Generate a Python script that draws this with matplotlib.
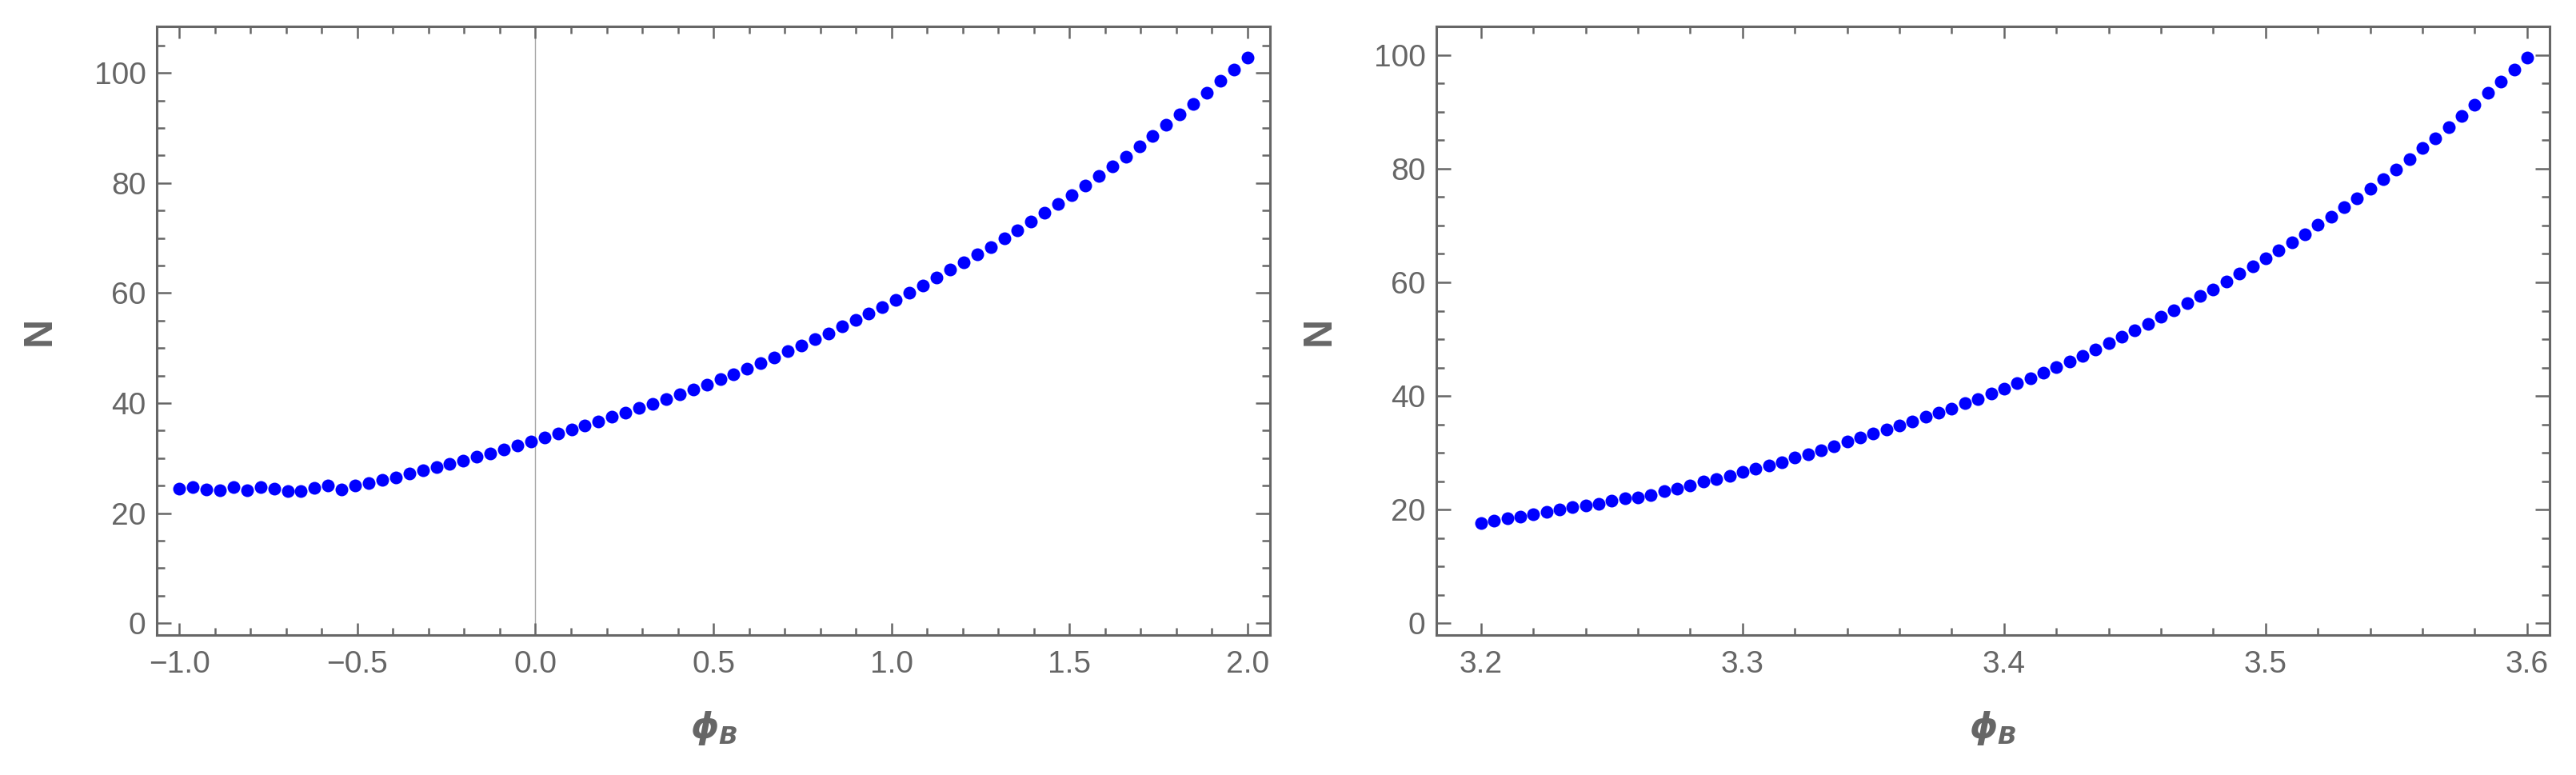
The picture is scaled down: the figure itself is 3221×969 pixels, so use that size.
import numpy as np
import matplotlib
matplotlib.use("Agg")
import matplotlib.pyplot as plt
from matplotlib.ticker import MultipleLocator

plt.rcParams['font.family'] = ['Liberation Sans', 'DejaVu Sans']
plt.rcParams['mathtext.fontset'] = 'custom'
plt.rcParams['mathtext.it'] = 'DejaVu Sans:italic:bold'
plt.rcParams['mathtext.rm'] = 'DejaVu Sans:bold'

# left panel data: 80 samples on [-1, 2]
phi_left = np.linspace(-1.0, 2.0, 80)
n_left = [24.4, 24.8, 24.3, 24.2, 24.7, 24.2, 24.7, 24.5, 24.0, 24.0,
          24.6, 25.1, 24.3, 25.0, 25.4, 26.0, 26.5, 27.2, 27.8, 28.4,
          29.0, 29.5, 30.3, 30.9, 31.6, 32.3, 33.0, 33.7, 34.5, 35.2,
          36.0, 36.7, 37.6, 38.3, 39.1, 39.9, 40.7, 41.6, 42.5, 43.4,
          44.3, 45.3, 46.3, 47.3, 48.3, 49.4, 50.5, 51.6, 52.7, 53.9,
          55.1, 56.3, 57.5, 58.8, 60.1, 61.4, 62.8, 64.2, 65.6, 67.0,
          68.4, 69.9, 71.4, 73.0, 74.6, 76.2, 77.8, 79.5, 81.2, 83.0,
          84.7, 86.6, 88.5, 90.5, 92.4, 94.4, 96.4, 98.5, 100.6, 102.8]

# right panel data: 81 samples on [3.2, 3.6]
phi_right = np.linspace(3.2, 3.6, 81)
n_right = [17.7, 18.1, 18.5, 18.8, 19.2, 19.6, 20.0, 20.4, 20.7, 21.0,
           21.6, 22.0, 22.1, 22.6, 23.2, 23.7, 24.3, 24.9, 25.4, 25.9,
           26.6, 27.2, 27.8, 28.4, 29.2, 29.8, 30.5, 31.2, 32.0, 32.7,
           33.4, 34.1, 34.8, 35.5, 36.3, 37.0, 37.8, 38.7, 39.5, 40.4,
           41.3, 42.2, 43.1, 44.1, 45.1, 46.1, 47.1, 48.2, 49.3, 50.4,
           51.5, 52.7, 53.9, 55.1, 56.3, 57.6, 58.8, 60.1, 61.5, 62.8,
           64.2, 65.6, 67.0, 68.5, 70.1, 71.6, 73.2, 74.8, 76.5, 78.2,
           79.9, 81.7, 83.6, 85.4, 87.3, 89.3, 91.3, 93.3, 95.4, 97.5,
           99.6]

gray = '#666666'

fig = plt.figure(figsize=(32.21, 9.69), dpi=100)
ax1 = fig.add_axes([0.06094, 0.1806, 0.43217, 0.78504])
ax2 = fig.add_axes([0.55768, 0.1806, 0.43198, 0.78504])


def style(ax, xmaj, xmin, xlen):
    for s in ax.spines.values():
        s.set_color(gray)
        s.set_linewidth(2.2)
    ax.xaxis.set_major_locator(MultipleLocator(xmaj))
    ax.xaxis.set_minor_locator(MultipleLocator(xmin))
    ax.yaxis.set_major_locator(MultipleLocator(20))
    ax.yaxis.set_minor_locator(MultipleLocator(5))
    ax.tick_params(axis='both', which='both', direction='in', color=gray,
                   top=True, right=True, labelcolor=gray, labelsize=28, width=1.8)
    ax.tick_params(axis='x', which='major', length=xlen, pad=14)
    ax.tick_params(axis='x', which='minor', length=xlen * 0.6)
    ax.tick_params(axis='y', which='major', length=12.7, pad=10)
    ax.tick_params(axis='y', which='minor', length=7.4)
    ax.set_xlabel(r'$\phi_B$', fontsize=32, color=gray, labelpad=27)
    ax.set_ylabel('N', fontsize=36, color=gray, fontweight='bold', labelpad=32)


ax1.axvline(0, color='#a6a6a6', lw=1.0, zorder=1)
ax1.plot(phi_left, n_left, 'o', color='#0000ff', ms=11.5, mec='none', zorder=3)
ax1.set_xlim(-1.063, 2.064)
ax1.set_ylim(-2.14, 108.4)
style(ax1, 0.5, 0.1, 10.6)

ax2.plot(phi_right, n_right, 'o', color='#0000ff', ms=11.5, mec='none', zorder=3)
ax2.set_xlim(3.183, 3.6085)
ax2.set_ylim(-2.07, 105.0)
style(ax2, 0.1, 0.02, 10.6)

fig.savefig('out.png', dpi=100)
